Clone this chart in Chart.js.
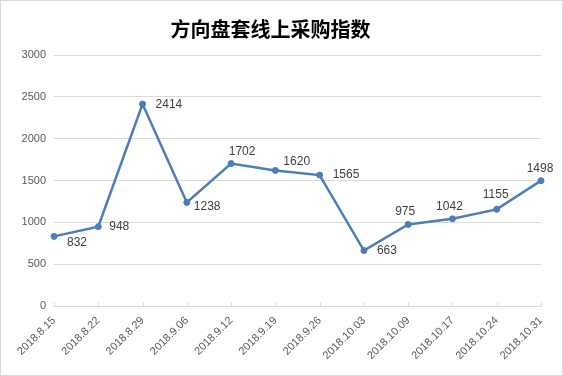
<!DOCTYPE html>
<html>
<head>
<meta charset="utf-8">
<script src="https://cdn.jsdelivr.net/npm/chart.js@4.4.1/dist/chart.umd.min.js"></script>
<style>
  html, body { margin: 0; padding: 0; background: #fff; }
  #wrap { width: 563px; height: 376px; position: relative; }
</style>
</head>
<body>
<div id="wrap"><canvas id="c" width="563" height="376"></canvas></div>
<script>
const titleText = '方向盘套线上采购指数';
const categories = ['2018.8.15','2018.8.22','2018.8.29','2018.9.06','2018.9.12','2018.9.19','2018.9.26','2018.10.03','2018.10.09','2018.10.17','2018.10.24','2018.10.31'];
const values = [832, 948, 2414, 1238, 1702, 1620, 1565, 663, 975, 1042, 1155, 1498];
const yTicks = [0, 500, 1000, 1500, 2000, 2500, 3000];

// label placement per point (style only): [align, dx, dy]
const labelPlacement = [
  ['left', 13, 6], ['left', 11, 0], ['left', 13, 1], ['left', 7, 4],
  ['center', 11, -12], ['left', 8, -9], ['left', 13, 0], ['left', 13, 0],
  ['center', -3, -13], ['center', -3, -12], ['center', -1, -15], ['center', -1, -12]
];

const borderPlugin = {
  id: 'frame',
  beforeDraw(chart) {
    const ctx = chart.ctx;
    ctx.save();
    ctx.fillStyle = '#fff';
    ctx.fillRect(0, 0, chart.width, chart.height);
    ctx.strokeStyle = '#d9d9d9';
    ctx.lineWidth = 1;
    ctx.strokeRect(0.5, 0.5, chart.width - 1, chart.height - 1);
    ctx.restore();
  },
  afterDatasetsDraw(chart) {
    const ctx = chart.ctx;
    const xs = chart.scales.x;
    const ys = chart.scales.y;
    ctx.save();
    ctx.strokeStyle = '#d9d9d9';
    ctx.lineWidth = 1;
    const y0 = Math.round(ys.getPixelForValue(0)) + 0.5;
    for (let i = 0; i < categories.length; i++) {
      const x = Math.round(xs.getPixelForTick(i)) + 0.5;
      ctx.beginPath();
      ctx.moveTo(x, y0);
      ctx.lineTo(x, y0 - 4);
      ctx.stroke();
    }
    ctx.restore();
    const meta = chart.getDatasetMeta(0);
    ctx.save();
    ctx.font = '12px "Liberation Sans", Arial, sans-serif';
    ctx.fillStyle = '#404040';
    ctx.textBaseline = 'middle';
    meta.data.forEach((pt, i) => {
      const p = labelPlacement[i];
      ctx.textAlign = p[0];
      ctx.fillText(String(values[i]), pt.x + p[1], pt.y + p[2]);
    });
    ctx.restore();
  }
};

new Chart(document.getElementById('c'), {
  type: 'line',
  data: {
    labels: categories,
    datasets: [{
      data: values,
      borderColor: '#4a7ebb',
      backgroundColor: '#4a7ebb',
      borderWidth: 2.5,
      pointRadius: 3,
      pointBorderWidth: 1,
      pointHoverRadius: 3,
      pointBackgroundColor: '#4a7ebb',
      pointBorderColor: '#4a7ebb',
      tension: 0,
      fill: false
    }]
  },
  options: {
    responsive: false,
    animation: false,
    devicePixelRatio: 1,
    layout: { padding: { left: 0, right: 22, top: 0, bottom: 0 } },
    plugins: {
      legend: { display: false },
      tooltip: { enabled: false },
      title: {
        display: true,
        text: titleText,
        color: '#000',
        font: { family: '"Noto Sans CJK SC", sans-serif', size: 20, weight: 'bold', lineHeight: 1.2 },
        padding: { top: 17, bottom: 14 }
      }
    },
    scales: {
      x: {
        type: 'category',
        offset: false,
        grid: { display: true, drawOnChartArea: false, drawTicks: false, color: '#d9d9d9' },
        border: { display: true, color: '#d9d9d9', width: 1 },
        ticks: {
          color: '#595959',
          font: { family: '"Liberation Sans", Arial, sans-serif', size: 11 },
          minRotation: 45, maxRotation: 45,
          padding: 8,
          autoSkip: false
        },
        afterFit(scale) { scale.height = 70; }
      },
      y: {
        min: 0, max: 3000,
        afterBuildTicks(scale) { scale.ticks = yTicks.map(v => ({ value: v })); },
        grid: { color: '#d9d9d9', drawTicks: false },
        border: { display: false },
        ticks: {
          color: '#595959',
          font: { family: '"Liberation Sans", Arial, sans-serif', size: 11 },
          padding: 8,
          callback: (v) => String(v)
        },
        afterFit(scale) { scale.width = 54; }
      }
    }
  },
  plugins: [borderPlugin]
});
</script>
</body>
</html>
